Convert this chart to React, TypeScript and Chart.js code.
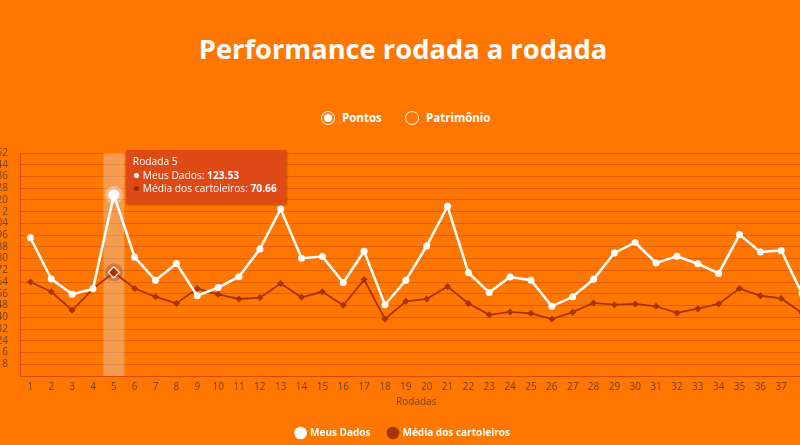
import React, { useEffect, useRef } from 'react';
import { Chart, registerables } from 'chart.js';

Chart.register(...registerables);

const rodadas = ['1','2','3','4','5','6','7','8','9','10','11','12','13','14','15','16','17','18','19','20','21','22','23','24','25','26','27','28','29','30','31','32','33','34','35','36','37','38'];
const meusDados = [94.2, 66.1, 55.8, 59.4, 123.53, 80.9, 65.2, 76.7, 54.7, 60.3, 67.7, 86.5, 113.8, 80.3, 81.4, 63.7, 85.0, 48.6, 65.2, 88.6, 115.7, 70.4, 57.0, 67.5, 65.3, 47.5, 54.0, 65.9, 83.9, 91.0, 77.1, 81.6, 76.5, 69.9, 96.4, 84.5, 85.6, 56.0];
const mediaCartoleiros = [64.1, 57.4, 44.8, 59.4, 70.66, 59.6, 54.0, 49.5, 59.6, 55.6, 52.5, 53.4, 63.0, 53.6, 57.4, 48.2, 65.7, 38.8, 50.9, 52.5, 61.0, 49.5, 41.7, 43.7, 42.7, 38.8, 43.5, 49.8, 48.6, 49.1, 47.5, 43.0, 45.9, 49.1, 59.6, 54.7, 52.9, 43.0];
const seriesNames = ['Meus Dados', 'Média dos cartoleiros'];
const yMin = 0;
const yMax = 152;
const yStep = 8;
const activeIndex = 4;
const titleText = 'Performance rodada a rodada';
const radioLabels = ['Pontos', 'Patrimônio'];
const xTitle = 'Rodadas';
const tooltipPrefix = 'Rodada ';

const ORANGE = '#ff7700';
const DARK = '#a83200';
const TEXT = '#6b3f1f';
const FONT = "'Open Sans', sans-serif";

export default function App() {
  const canvasRef = useRef<HTMLCanvasElement>(null);
  const tipRef = useRef<HTMLDivElement>(null);

  useEffect(() => {
    document.body.style.margin = '0';
    document.body.style.background = ORANGE;
    const canvas = canvasRef.current!;
    Chart.defaults.font.family = FONT;
    Chart.defaults.color = TEXT;

    const highlight = {
      id: 'highlight',
      beforeDatasetsDraw(chart: any) {
        const act = chart.getActiveElements();
        if (!act.length) return;
        const { ctx, chartArea } = chart;
        const xs = chart.scales.x;
        const i = act[0].index;
        const w = xs.getPixelForValue(1) - xs.getPixelForValue(0);
        const cx = xs.getPixelForValue(i);
        ctx.save();
        ctx.fillStyle = 'rgba(225,225,225,0.35)';
        ctx.fillRect(cx - w / 2, chartArea.top, w, chartArea.bottom - chartArea.top);
        act.forEach((a: any) => {
          const el = chart.getDatasetMeta(a.datasetIndex).data[a.index];
          ctx.beginPath();
          ctx.arc(el.x, el.y, 9, 0, Math.PI * 2);
          ctx.fillStyle = a.datasetIndex === 0 ? 'rgba(255,255,255,0.3)' : 'rgba(150,40,0,0.3)';
          ctx.fill();
        });
        ctx.restore();
      },
    };

    const chart = new Chart(canvas, {
      type: 'line',
      data: {
        labels: rodadas,
        datasets: [
          {
            label: seriesNames[0],
            data: meusDados,
            borderColor: '#ffffff',
            backgroundColor: '#ffffff',
            borderWidth: 2.5,
            pointRadius: 3.5,
            pointBorderWidth: 0,
            pointBackgroundColor: '#ffffff',
            pointHoverRadius: 5.5,
            pointHoverBorderWidth: 0,
            pointHoverBackgroundColor: '#ffffff',
            tension: 0,
          },
          {
            label: seriesNames[1],
            data: mediaCartoleiros,
            borderColor: DARK,
            backgroundColor: DARK,
            borderWidth: 1.8,
            pointStyle: 'rectRot',
            pointRadius: 3.5,
            pointBorderWidth: 0,
            pointBackgroundColor: DARK,
            pointHoverRadius: 5.5,
            pointHoverBorderWidth: 1.2,
            pointHoverBorderColor: '#ffffff',
            pointHoverBackgroundColor: DARK,
            tension: 0,
          },
        ],
      },
      options: {
        responsive: false,
        maintainAspectRatio: false,
        animation: false,
        devicePixelRatio: 1,
        events: [],
        layout: { padding: { top: 15, left: 0, right: 0, bottom: 0 } },
        interaction: { mode: 'index', intersect: false },
        scales: {
          x: {
            type: 'category',
            offset: true,
            grid: { display: false, drawTicks: false },
            border: { display: true, color: '#d8480a', width: 1 },
            ticks: {
              padding: 5,
              font: { size: 10 },
              color: TEXT,
              maxRotation: 0,
              autoSkip: false,
              callback: (v: any, i: number) => (i === rodadas.length - 1 ? '' : rodadas[i]),
            },
            title: { display: true, text: xTitle, color: TEXT, font: { size: 10 }, padding: { top: 3, bottom: 2 } },
            afterFit: (s: any) => { s.height = 34; },
          },
          y: {
            min: yMin,
            max: yMax,
            grid: { color: '#e25f00', lineWidth: 1, drawTicks: false },
            border: { display: true, color: '#d8480a', width: 1 },
            ticks: {
              stepSize: yStep,
              maxTicksLimit: 40,
              autoSkip: false,
              padding: 12,
              font: { size: 10 },
              color: TEXT,
              callback: (v: any) => (v === 0 ? '' : String(v)),
            },
            afterFit: (s: any) => { s.width = 32; },
          },
        },
        plugins: {
          legend: {
            position: 'bottom',
            labels: {
              usePointStyle: true,
              pointStyle: 'circle',
              boxWidth: 9,
              boxHeight: 9,
              padding: 18,
              color: '#ffffff',
              font: { size: 10, weight: 'bold' },
              generateLabels: (ch: any) =>
                Chart.defaults.plugins.legend.labels.generateLabels(ch).map((l: any) => ({ ...l, lineWidth: 0, pointStyle: 'circle' })),
            },
          },
          tooltip: {
            enabled: false,
            external: ({ chart: ch, tooltip }: any) => {
              const div = tipRef.current;
              if (!div) return;
              const dps = tooltip.dataPoints || [];
              if (!dps.length) { div.style.display = 'none'; return; }
              div.innerHTML = '';
              const t = document.createElement('div');
              t.textContent = tooltipPrefix + dps[0].label;
              div.appendChild(t);
              dps.forEach((dp: any) => {
                const row = document.createElement('div');
                row.style.display = 'flex';
                row.style.alignItems = 'center';
                const dot = document.createElement('span');
                dot.style.cssText = `display:inline-block;width:5px;height:5px;border-radius:50%;margin:0 4px 0 1px;background:${dp.datasetIndex === 0 ? '#ffffff' : '#9a2a00'}`;
                const name = document.createElement('span');
                name.textContent = dp.dataset.label + ':\u00a0';
                const val = document.createElement('b');
                val.textContent = String(dp.raw);
                row.appendChild(dot);
                row.appendChild(name);
                row.appendChild(val);
                div.appendChild(row);
              });
              div.style.display = 'block';
              div.style.left = ch.canvas.offsetLeft + tooltip.caretX + 12 + 'px';
              div.style.top = ch.canvas.offsetTop + ch.chartArea.top - 3 + 'px';
            },
          },
        },
      },
      plugins: [highlight],
    } as any);

    const act = [0, 1].map((d) => ({ datasetIndex: d, index: activeIndex }));
    chart.setActiveElements(act);
    const el: any = chart.getDatasetMeta(0).data[activeIndex];
    chart.tooltip!.setActiveElements(act, { x: el.x, y: el.y });
    chart.update();

    return () => chart.destroy();
  }, []);

  const ring = (left: number, filled: boolean) => (
    <div style={{ position: 'absolute', left, top: 111, width: 14, height: 14, boxSizing: 'border-box', border: '1.5px solid #fff', borderRadius: '50%' }}>
      {filled && <div style={{ position: 'absolute', left: 1.5, top: 1.5, width: 8, height: 8, borderRadius: '50%', background: '#fff' }} />}
    </div>
  );
  const radioText = (left: number, text: string) => (
    <div style={{ position: 'absolute', left, top: 110, lineHeight: '16px', fontSize: 11.5, fontWeight: 700, color: '#fff' }}>{text}</div>
  );

  return (
    <div style={{ position: 'fixed', left: 0, top: 0, width: 800, height: 445, overflow: 'hidden', background: ORANGE, fontFamily: FONT }}>
      <div style={{ position: 'absolute', left: 0, top: 30, width: 806, textAlign: 'center', color: '#fff', fontSize: 27.3, fontWeight: 700, lineHeight: 'normal' }}>{titleText}</div>
      {ring(321, true)}
      {radioText(342, radioLabels[0])}
      {ring(405, false)}
      {radioText(426, radioLabels[1])}
      <canvas ref={canvasRef} width={830} height={313} style={{ position: 'absolute', left: -12, top: 135, width: 830, height: 313 }} />
      <div ref={tipRef} style={{ position: 'absolute', display: 'none', background: 'rgb(222,74,22)', color: '#fff', fontSize: 10.2, lineHeight: '13.5px', padding: '5px 9px 8px 7px', boxShadow: '1px 1px 2px rgba(120,30,0,0.45)', whiteSpace: 'nowrap' }} />
    </div>
  );
}
